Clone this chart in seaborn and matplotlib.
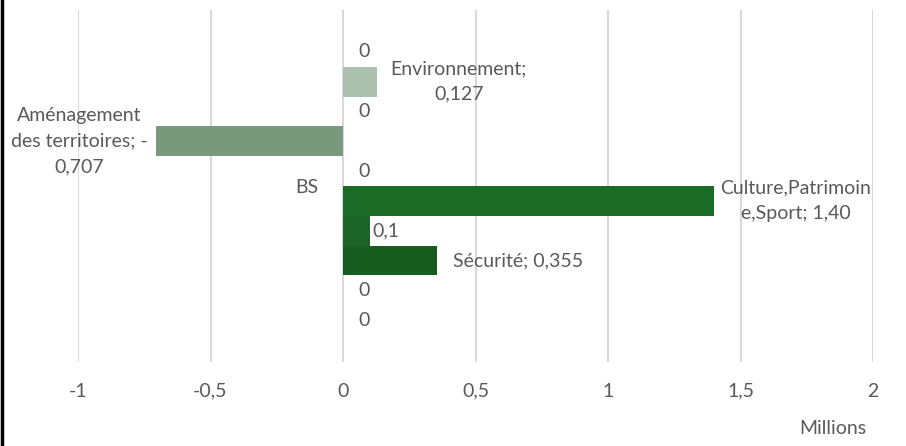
import numpy as np
import pandas as pd
import seaborn as sns
import matplotlib.pyplot as plt
from matplotlib.lines import Line2D
from matplotlib.ticker import FuncFormatter

# series of the single "BS" category, top to bottom
series = ["s1", "Environnement", "s3", "Aménagement des territoires", "s5",
          "Culture,Patrimoine,Sport", "s7", "Sécurité", "s9", "s10"]
values = [0, 0.127, 0, -0.707, 0, 1.40, 0.1, 0.355, 0, 0]
labels = ["0", "Environnement;\n0,127", "0", "Aménagement\ndes territoires; -\n0,707", "0",
          "Culture,Patrimoin\ne,Sport; 1,40", "0,1", "Sécurité; 0,355", "0", "0"]
colors = ["#adc2ae", "#adc2ae", "#adc2ae", "#7a987c", "#1b6b27",
          "#1b6b27", "#1b6426", "#175d20", "#175d20", "#175d20"]
category = "BS"
xticks = [-1, -0.5, 0, 0.5, 1, 1.5, 2]

df = pd.DataFrame({"series": series, "value": values})

sns.set_theme(style="white")
plt.rcParams["font.family"] = ["Lato", "DejaVu Sans"]

fig = plt.figure(figsize=(9.06, 4.46), dpi=100)
ax = fig.add_axes([78 / 906, 1 - 362 / 446, 795 / 906, 352 / 446])

sns.barplot(data=df, x="value", y="series", hue="series", palette=colors,
            orient="h", width=1.0, legend=False, ax=ax, saturation=1,
            linewidth=0)

ax.set_xlim(-1, 2)
ax.set_ylim(9.5 + 0.9, -0.5 - 0.9)
ax.set_xticks(xticks)
ax.xaxis.set_major_formatter(FuncFormatter(lambda v, p: f"{v:g}".replace(".", ",")))
ax.grid(axis="x", color="#d9d9d9", lw=1.5)
ax.set_axisbelow(True)
ax.spines["left"].set_position(("data", 0))
for s in ax.spines.values():
    s.set_visible(False)

fs = 14
txt = "#595959"
ax.set_yticks([4.5])
ax.set_yticklabels([category])
ax.tick_params(axis="y", length=0, pad=18, labelsize=fs, labelcolor=txt)
ax.tick_params(axis="x", length=0, pad=15, labelsize=fs, labelcolor=txt)
ax.set_xlabel("")
ax.set_ylabel("")

# data labels
for i, (v, lab) in enumerate(zip(values, labels)):
    if lab == "0":
        ax.annotate(lab, xy=(0, i), xytext=(21, 0), textcoords="offset pixels",
                    ha="center", va="center", fontsize=fs, color=txt)
    elif v < 0:
        ax.annotate(lab, xy=(v, i), xytext=(-76, 0), textcoords="offset pixels",
                    ha="center", va="center", fontsize=fs, color=txt,
                    linespacing=1.65)
    elif lab == "0,1":
        ax.annotate(lab, xy=(v, i), xytext=(16, 0), textcoords="offset pixels",
                    ha="center", va="center", fontsize=fs, color=txt)
    elif lab.startswith("Sécurité"):
        ax.annotate(lab, xy=(v, i), xytext=(16, 0), textcoords="offset pixels",
                    ha="left", va="center", fontsize=fs, color=txt)
    else:
        off = 82 if lab.startswith("Env") else 82
        ax.annotate(lab, xy=(v, i), xytext=(off, 0), textcoords="offset pixels",
                    ha="center", va="center", fontsize=fs, color=txt,
                    linespacing=1.6)

fig.text(833 / 906, 1 - 428 / 446, "Millions", ha="center", va="center",
         fontsize=fs, color=txt)
fig.add_artist(Line2D([0.002, 0.002], [0, 1], color="black", lw=2.5))

fig.savefig("out.png", dpi=100)
